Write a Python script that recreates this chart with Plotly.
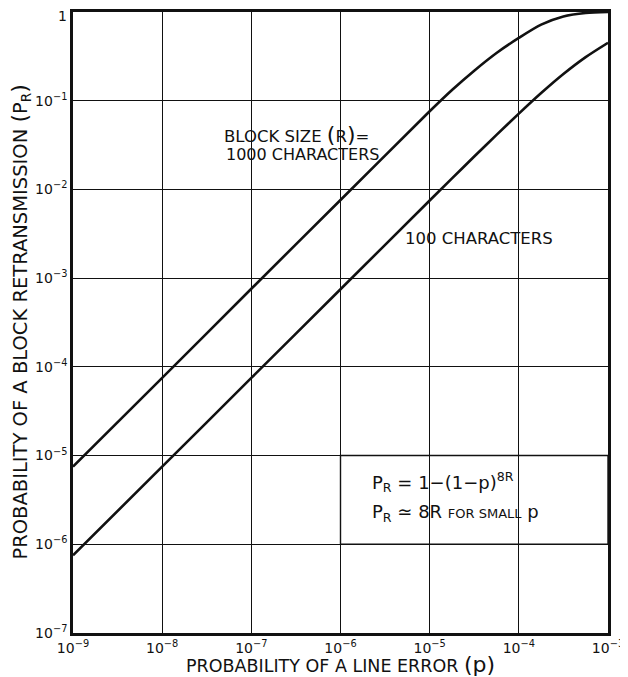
import plotly.graph_objects as go

# ---- data ----
p_values = [1e-9, 1e-8, 1e-7, 1e-6, 1e-5, 1.78e-5, 3.16e-5, 5.62e-5, 1e-4,
            1.78e-4, 3.16e-4, 5.62e-4, 1e-3]
pr_1000 = [7.5e-6, 7.5e-5, 7.6e-4, 7.6e-3, 0.076, 0.132, 0.218, 0.345, 0.51,
           0.72, 0.89, 0.975, 1.0]
pr_100 = [7.5e-7, 7.5e-6, 7.5e-5, 7.5e-4, 7.5e-3, 0.0133, 0.0235, 0.0412, 0.0715,
          0.122, 0.20, 0.31, 0.45]

x_ticks = [1e-9, 1e-8, 1e-7, 1e-6, 1e-5, 1e-4, 1e-3]
x_tick_labels = ["10<sup>−9</sup>", "10<sup>−8</sup>", "10<sup>−7</sup>", "10<sup>−6</sup>",
                 "10<sup>−5</sup>", "10<sup>−4</sup>", "10<sup>−3</sup>"]
y_ticks = [1e-7, 1e-6, 1e-5, 1e-4, 1e-3, 1e-2, 1e-1, 1]
y_tick_labels = ["10<sup>−7</sup>", "10<sup>−6</sup>", "10<sup>−5</sup>", "10<sup>−4</sup>",
                 "10<sup>−3</sup>", "10<sup>−2</sup>", "10<sup>−1</sup>", "1"]

FONT = "DejaVu Sans"
INK = "#111111"

fig = go.Figure()
for ys in (pr_1000, pr_100):
    fig.add_trace(go.Scatter(x=p_values, y=ys, mode="lines",
                             line=dict(color=INK, width=2.6, shape="spline", smoothing=0.8),
                             showlegend=False, hoverinfo="skip"))

# white patches that break the grid behind labels
shapes = [
    dict(type="rect", xref="paper", yref="paper", x0=0.265, x1=0.585, y0=0.737, y1=0.838,
         fillcolor="white", line=dict(width=0), layer="between"),
    dict(type="rect", xref="paper", yref="paper", x0=0.60, x1=0.915, y0=0.603, y1=0.666,
         fillcolor="white", line=dict(width=0), layer="between"),
    dict(type="rect", xref="paper", yref="paper", x0=0.5, x1=1.0, y0=1/7, y1=2/7,
         fillcolor="white", line=dict(width=1.4, color=INK), layer="between"),
]

big = "<span style='font-size:22px'>"
annotations = [
    dict(text="BLOCK SIZE " + big + "(</span>R" + big + ")</span>=",
         x=0.2785, y=0.802, xref="paper", yref="paper", xanchor="left", yanchor="middle",
         showarrow=False, font=dict(family=FONT, size=16.5, color=INK)),
    dict(text="1000 CHARACTERS", x=0.282, y=0.771, xref="paper", yref="paper",
         xanchor="left", yanchor="middle", showarrow=False,
         font=dict(family=FONT, size=16, color=INK)),
    dict(text="100 CHARACTERS", x=0.6168, y=0.636, xref="paper", yref="paper",
         xanchor="left", yanchor="middle", showarrow=False,
         font=dict(family=FONT, size=16.5, color=INK)),
    dict(text="P<sub>R</sub> = 1−(1−p)<sup>8R</sup>", x=0.556, y=0.243, xref="paper", yref="paper",
         xanchor="left", yanchor="middle", showarrow=False,
         font=dict(family=FONT, size=18, color=INK)),
    dict(text="P<sub>R</sub> ≃ 8R <span style='font-size:13px'>FOR SMALL</span> p",
         x=0.556, y=0.193, xref="paper", yref="paper",
         xanchor="left", yanchor="middle", showarrow=False,
         font=dict(family=FONT, size=18, color=INK)),
    # top y tick label, nudged down so it stays inside the page
    dict(text=y_tick_labels[-1], x=0, y=1, xref="paper", yref="paper",
         xanchor="right", yanchor="middle", xshift=-4, yshift=-4, showarrow=False,
         font=dict(family=FONT, size=14, color=INK)),
    # axis titles
    dict(text="PROBABILITY OF A LINE ERROR " + big + "(p)</span>",
         x=0.5, y=-0.051, xref="paper", yref="paper", xanchor="center", yanchor="middle",
         showarrow=False, font=dict(family=FONT, size=17.5, color=INK)),
    dict(text="PROBABILITY OF A BLOCK RETRANSMISSION " + big + "(</span>P<sub>R</sub>" + big + ")</span>",
         x=-0.099, y=0.5, xref="paper", yref="paper", xanchor="center", yanchor="middle",
         textangle=-90, showarrow=False, font=dict(family=FONT, size=19.5, color=INK)),
]

axis_common = dict(
    type="log", showgrid=True, gridcolor=INK, gridwidth=1.2,
    showline=True, linecolor=INK, linewidth=2.6, mirror=True,
    ticks="", tickmode="array", zeroline=False, automargin=False,
    ticklabeloverflow="allow",
    tickfont=dict(family=FONT, size=14, color=INK),
)

# the page body adds an 8px offset, so the figure is 8px smaller than the window
fig.update_layout(
    width=620, height=669,
    margin=dict(l=65, r=20, t=4, b=44),
    paper_bgcolor="white", plot_bgcolor="white",
    shapes=shapes, annotations=annotations,
    xaxis=dict(axis_common, range=[-9, -3], tickvals=x_ticks, ticktext=x_tick_labels),
    yaxis=dict(axis_common, range=[-7, 0], tickvals=y_ticks,
               ticktext=y_tick_labels[:-1] + [""]),
)

fig.write_html("out.html")
